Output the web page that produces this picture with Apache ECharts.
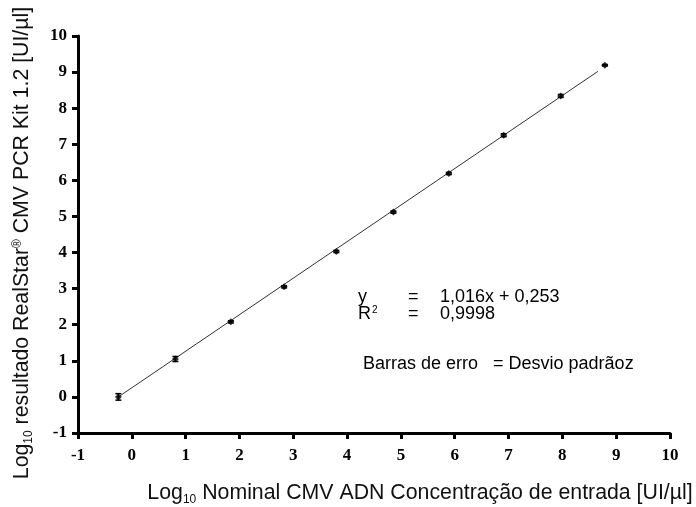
<!DOCTYPE html>
<html><head><meta charset="utf-8">
<script src="https://cdn.jsdelivr.net/npm/echarts@6/dist/echarts.min.js"></script>
<style>html,body{margin:0;padding:0;background:#fff}#c{width:696px;height:507px}</style>
</head><body><div id="c"></div>
<script>
var xValues = [-0.25, 0.81, 1.84, 2.83, 3.80, 4.86, 5.89, 6.91, 7.97, 8.79];
var yValues = [0.00, 1.05, 2.08, 3.05, 4.03, 5.12, 6.19, 7.25, 8.34, 9.19];
var yErrors = [0.09, 0.07, 0.03, 0.03, 0.03, 0.03, 0.03, 0.04, 0.04, 0.02];
var fitX = [-0.25, 8.66];
var fitY = [0.00, 9.02];
var xTicks = [-1, 0, 1, 2, 3, 4, 5, 6, 7, 8, 9, 10];
var yTicks = [-1, 0, 1, 2, 3, 4, 5, 6, 7, 8, 9, 10];

var chart = echarts.init(document.getElementById('c'));
var pts = xValues.map(function (x, i) { return [x, yValues[i]]; });
var errs = xValues.map(function (x, i) { return [x, yValues[i] - yErrors[i], yValues[i] + yErrors[i]]; });
var fit = fitX.map(function (x, i) { return [x, fitY[i]]; });

var tickFont = { fontFamily: 'Liberation Serif', fontWeight: 'bold', fontSize: 17, color: '#000' };
var axisFont = 'Liberation Sans';
var annFont = '18px "Liberation Sans"';

chart.setOption({
  animation: false,
  backgroundColor: '#fff',
  grid: { left: 78, right: 26, top: 36, bottom: 74, outerBoundsMode: 'none', containLabel: false },
  xAxis: {
    type: 'value', min: xTicks[0], max: xTicks[xTicks.length - 1], interval: 1,
    axisLine: { onZero: false, lineStyle: { color: '#000', width: 3 } },
    axisTick: { show: true, length: 6, lineStyle: { color: '#000', width: 3 } },
    axisLabel: Object.assign({ margin: 14 }, tickFont),
    splitLine: { show: false },
    name: '{a|Log}{s|10}{a| Nominal CMV ADN Concentração de entrada [UI/µl]}',
    nameLocation: 'middle', nameGap: 47,
    nameTextStyle: {
      padding: [0, 0, 0, 92],
      rich: {
        a: { fontFamily: axisFont, fontSize: 21.3, color: '#111' },
        s: { fontFamily: axisFont, fontSize: 12, color: '#111', padding: [14, 0, 0, 0] }
      }
    }
  },
  yAxis: {
    type: 'value', min: yTicks[0], max: yTicks[yTicks.length - 1], interval: 1,
    axisLine: { onZero: false, lineStyle: { color: '#000', width: 3 } },
    axisTick: { show: true, length: 6, lineStyle: { color: '#000', width: 3 } },
    axisLabel: Object.assign({ margin: 11 }, tickFont),
    splitLine: { show: false },
    name: '{a|Log}{s|10}{a| resultado RealStar}{p|®}{a| CMV PCR Kit 1.2 [UI/µl]}',
    nameLocation: 'middle', nameGap: 43, nameRotate: 90,
    nameTextStyle: {
      padding: [0, 17, 0, 0],
      rich: {
        a: { fontFamily: axisFont, fontSize: 21.3, color: '#111' },
        s: { fontFamily: axisFont, fontSize: 12, color: '#111', padding: [14, 0, 0, 0] },
        p: { fontFamily: axisFont, fontSize: 12, color: '#111', padding: [0, 0, 9, 0] }
      }
    }
  },
  series: [
    {
      type: 'line', data: fit, symbol: 'none',
      lineStyle: { color: '#333', width: 1 }, z: 1
    },
    {
      type: 'custom', data: errs, z: 2,
      renderItem: function (params, api) {
        var x = api.value(0);
        var lo = api.coord([x, api.value(1)]);
        var hi = api.coord([x, api.value(2)]);
        var w = 3;
        return {
          type: 'group',
          children: [
            { type: 'line', shape: { x1: lo[0], y1: lo[1], x2: hi[0], y2: hi[1] }, style: { stroke: '#000', lineWidth: 1.5 } },
            { type: 'line', shape: { x1: lo[0] - w, y1: lo[1], x2: lo[0] + w, y2: lo[1] }, style: { stroke: '#000', lineWidth: 1.5 } },
            { type: 'line', shape: { x1: hi[0] - w, y1: hi[1], x2: hi[0] + w, y2: hi[1] }, style: { stroke: '#000', lineWidth: 1.5 } }
          ]
        };
      }
    },
    {
      type: 'scatter', data: pts, symbol: 'diamond', symbolSize: 7,
      itemStyle: { color: '#000' }, z: 3
    }
  ],
  graphic: [
    { type: 'text', x: 358, y: 297, style: { text: 'y', font: annFont, fill: '#000', verticalAlign: 'middle' } },
    { type: 'text', x: 408, y: 297, style: { text: '=', font: annFont, fill: '#000', verticalAlign: 'middle' } },
    { type: 'text', x: 440, y: 297, style: { text: '1,016x + 0,253', font: annFont, fill: '#000', verticalAlign: 'middle' } },
    { type: 'text', x: 358, y: 314, style: { text: '{a|R}{b|2}', verticalAlign: 'middle', rich: { a: { font: annFont, fill: '#000' }, b: { font: '10px "Liberation Sans"', fill: '#000', padding: [0, 0, 7, 1] } } } },
    { type: 'text', x: 408, y: 314, style: { text: '=', font: annFont, fill: '#000', verticalAlign: 'middle' } },
    { type: 'text', x: 440, y: 314, style: { text: '0,9998', font: annFont, fill: '#000', verticalAlign: 'middle' } },
    { type: 'text', x: 363, y: 364, style: { text: 'Barras de erro   = Desvio padrãoz', font: annFont, fill: '#000', verticalAlign: 'middle' } }
  ]
});
</script>
</body></html>
